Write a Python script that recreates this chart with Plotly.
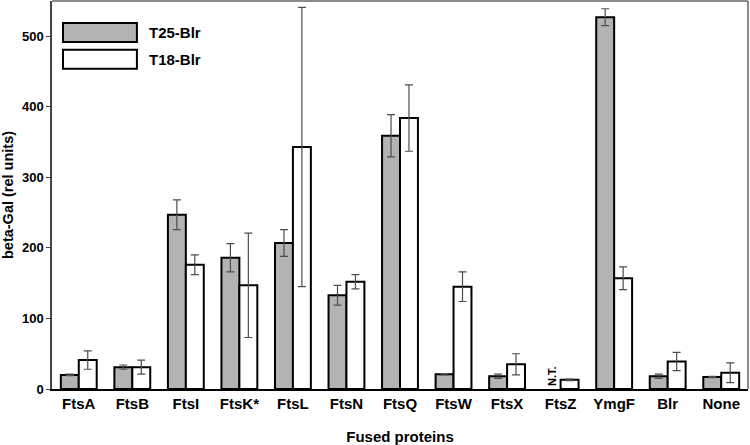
import plotly.graph_objects as go

categories = ["FtsA", "FtsB", "FtsI", "FtsK*", "FtsL", "FtsN", "FtsQ", "FtsW", "FtsX", "FtsZ", "YmgF", "Blr", "None"]
t25_values = [20, 31, 247, 186, 207, 133, 359, 21, 18, None, 527, 18, 17]
t25_errors = [1, 3, 21, 20, 19, 14, 30, 1, 3, None, 12, 3, 1]
t18_values = [41, 31, 176, 147, 343, 152, 384, 145, 35, 13, 157, 39, 23]
t18_errors = [13, 10, 14, 74, 198, 10, 47, 21, 15, 1, 16, 13, 14]
not_tested = ["FtsZ"]
y_ticks = [0, 100, 200, 300, 400, 500]

FONT = "Liberation Sans, Arial, sans-serif"
GRAY = "#b3b3b3"
ERR = "#4d4d4d"

fig = go.Figure()
fig.add_trace(go.Bar(
    x=categories, y=t25_values, name="T25-Blr", offsetgroup="t25",
    marker=dict(color=GRAY, line=dict(color="black", width=2)),
    error_y=dict(type="data", array=t25_errors, color=ERR, thickness=1.2, width=4),
    showlegend=False, hoverinfo="skip",
))
fig.add_trace(go.Bar(
    x=categories, y=t18_values, name="T18-Blr", offsetgroup="t18",
    marker=dict(color="white", line=dict(color="black", width=2)),
    error_y=dict(type="data", array=t18_errors, color=ERR, thickness=1.2, width=4),
    showlegend=False, hoverinfo="skip",
))
# "N.T." (not tested) marker text, sharing the T25 slot
fig.add_trace(go.Bar(
    x=not_tested, y=[0] * len(not_tested), offsetgroup="t25",
    text=["N.T."] * len(not_tested), textposition="outside", textangle=-90,
    constraintext="none", cliponaxis=False,
    textfont=dict(family=FONT, size=11, color="black", weight="bold"),
    marker=dict(color="rgba(0,0,0,0)", line=dict(width=0)),
    showlegend=False, hoverinfo="skip",
))

# Frame (top and right)
fig.add_shape(type="line", xref="paper", yref="paper", x0=0, x1=1, y0=1, y1=1,
              line=dict(color="#666", width=1.5))
fig.add_shape(type="line", xref="paper", yref="paper", x0=1, x1=1, y0=0, y1=1,
              line=dict(color="#666", width=1.5))

# Custom legend
legend_items = [("T25-Blr", GRAY, 0.919), ("T18-Blr", "white", 0.850)]
for label, col, yc in legend_items:
    fig.add_shape(type="rect", xref="paper", yref="paper",
                  x0=0.0158, x1=0.122, y0=yc - 0.0245, y1=yc + 0.0245,
                  fillcolor=col, line=dict(color="black", width=2))
    fig.add_annotation(xref="paper", yref="paper", x=0.136, y=yc, text=label,
                       showarrow=False, xanchor="left", yanchor="middle",
                       font=dict(family=FONT, size=15, color="black", weight="bold"))

fig.update_layout(
    width=750, height=445,
    margin=dict(l=52, r=2, t=1, b=56),
    paper_bgcolor="white", plot_bgcolor="white",
    barmode="group", bargap=0.33, bargroupgap=0,
    xaxis=dict(
        categoryorder="array", categoryarray=categories, automargin=False,
        showline=True, linecolor="black", linewidth=1.5, mirror=False,
        ticks="", tickfont=dict(family=FONT, size=15, color="black", weight="bold"),
        title=dict(text="Fused proteins", font=dict(family=FONT, size=15, color="black", weight="bold"), standoff=21),
        range=[-0.5, 12.5],
    ),
    yaxis=dict(
        range=[0, 550], tickvals=y_ticks, showgrid=False, zeroline=False, automargin=False,
        showline=True, linecolor="#444", linewidth=1.5,
        ticks="outside", ticklen=4, tickcolor="#444",
        tickfont=dict(family=FONT, size=13, color="black", weight="bold"),
        title=dict(text="beta-Gal (rel units)", font=dict(family=FONT, size=14.5, color="black", weight="bold"), standoff=6),
    ),
)

fig.write_html("out.html", config={"displayModeBar": False},
               post_script="document.body.style.margin='0';")
